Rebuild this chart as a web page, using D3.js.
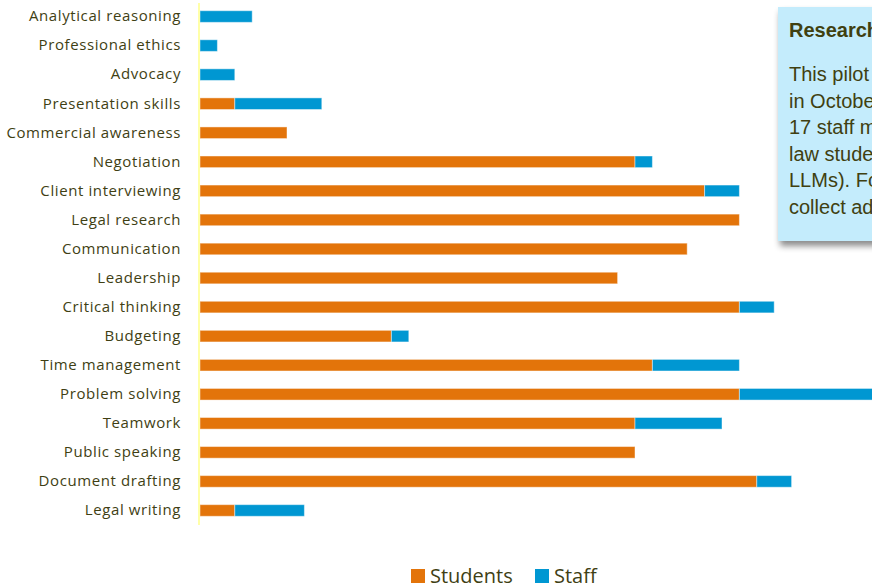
<!DOCTYPE html>
<html>
<head>
<meta charset="utf-8">
<script src="https://cdn.jsdelivr.net/npm/d3@7"></script>
<style>
html,body{margin:0;padding:0;background:#fff;overflow:hidden;}
svg{display:block;}
</style>
</head>
<body>
<svg id="chart" width="872" height="588"></svg>
<script>
const categories = ["Analytical reasoning","Professional ethics","Advocacy","Presentation skills","Commercial awareness","Negotiation","Client interviewing","Legal research","Communication","Leadership","Critical thinking","Budgeting","Time management","Problem solving","Teamwork","Public speaking","Document drafting","Legal writing"];
const students = [0,0,0,2,5,25,29,31,28,24,31,11,26,31,25,25,32,2];
const staff    = [3,1,2,5,0,1,2,0,0,0,2,1,5,8,5,0,2,4];
const seriesNames = ["Students","Staff"];
const seriesColors = ["#e3740a","#0097d2"];
const boxTitle = "Research context";
const boxLines = ["This pilot survey was conducted","in October 2023 and involved","17 staff members and 112","law students (LLBs and","LLMs). Follow-up work will","collect additional data."];

const svg = d3.select("#chart");
const textColor = "#3f3f14";

const x = d3.scaleLinear().domain([0, 40]).range([200, 896]);
const y = d3.scaleBand().domain(categories).range([2, 525]).paddingInner(0.6).paddingOuter(0.3);

const stackData = categories.map((c,i)=>({cat:c, Students:students[i], Staff:staff[i]}));
const stack = d3.stack().keys(seriesNames)(stackData);

const g = svg.append("g");
stack.forEach((layer, li)=>{
  g.append("g").selectAll("rect").data(layer).join("rect")
    .attr("x", d=>x(d[0]))
    .attr("y", d=>y(d.data.cat))
    .attr("width", d=>Math.max(0, x(d[1])-x(d[0])))
    .attr("height", y.bandwidth())
    .attr("fill", seriesColors[li])
    .attr("stroke", d=> (d[1]-d[0])>0 ? "rgba(255,255,255,0.45)" : "none")
    .attr("stroke-width", 1);
});

// axis line
svg.append("line").attr("x1",199).attr("x2",199).attr("y1",3).attr("y2",525)
  .attr("stroke","#ffffa8").attr("stroke-width",2);

// category labels
const yAxis = d3.axisLeft(y).tickSize(0).tickPadding(0);
const ag = svg.append("g").attr("transform","translate(181,0)").call(yAxis);
ag.select(".domain").remove();
ag.selectAll("text").attr("fill",textColor).style("font-family","'Open Sans'")
  .style("font-size","15px").style("letter-spacing","0.6px");

// legend
const leg = svg.append("g");
const legX = [411, 535];
seriesNames.forEach((n,i)=>{
  leg.append("rect").attr("x",legX[i]).attr("y",569).attr("width",14).attr("height",14).attr("fill",seriesColors[i]);
  leg.append("text").attr("x",legX[i]+19).attr("y",583).text(n)
    .attr("fill",textColor).style("font-family","'Open Sans'").style("font-size","20px");
});

// text box with shadow
const defs = svg.append("defs");
const f = defs.append("filter").attr("id","sh").attr("x","-20%").attr("y","-20%").attr("width","140%").attr("height","140%");
f.append("feDropShadow").attr("dx",2).attr("dy",5).attr("stdDeviation",3).attr("flood-color","#000").attr("flood-opacity",0.45);
svg.append("rect").attr("x",778).attr("y",7).attr("width",200).attr("height",234)
  .attr("fill","#c4ecfc").attr("filter","url(#sh)");
svg.append("text").attr("x",789).attr("y",37).text(boxTitle)
  .attr("fill","#404010").style("font-family","'Liberation Sans', Arial").style("font-size","20px").style("font-weight","bold");
svg.append("g").selectAll("text").data(boxLines).join("text")
  .attr("x",789).attr("y",(d,i)=>81+i*26.5).text(d=>d)
  .attr("fill","#404010").style("font-family","'Liberation Sans', Arial").style("font-size","20px");
</script>
</body>
</html>
